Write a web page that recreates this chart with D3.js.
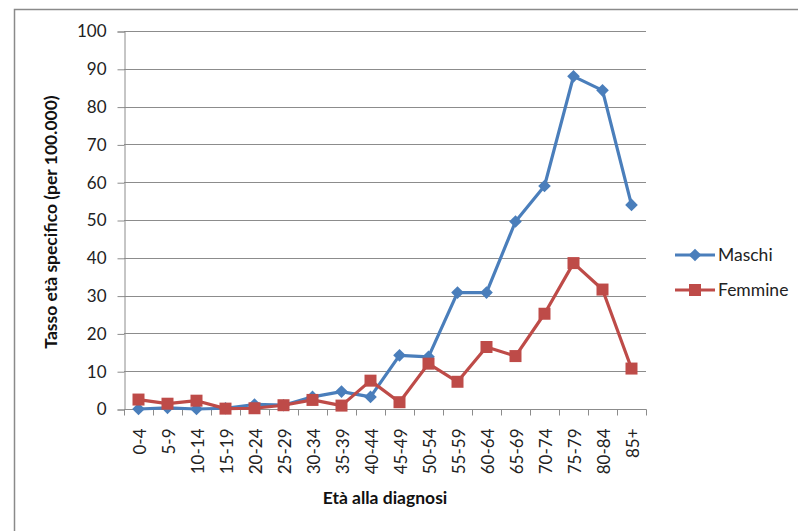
<!DOCTYPE html>
<html>
<head>
<meta charset="utf-8">
<script src="https://cdn.jsdelivr.net/npm/d3@7"></script>
<style>
  body { margin: 0; background: #fff; }
  svg { display: block; font-family: Lato, "Open Sans", sans-serif; }
</style>
</head>
<body>
<svg id="chart" width="798" height="531"></svg>
<script>
// age classes on the x axis
const ageGroups = ["0-4","5-9","10-14","15-19","20-24","25-29","30-34","35-39","40-44",
                   "45-49","50-54","55-59","60-64","65-69","70-74","75-79","80-84","85+"];
// rates per 100.000
const maschi  = [0, 0.3, 0, 0.2, 1.2, 1, 3.2, 4.6, 3.2, 14.2, 13.8, 30.8, 30.8, 49.6, 59, 88, 84.3, 54];
const femmine = [2.5, 1.4, 2.2, 0.1, 0.2, 1, 2.4, 0.9, 7.5, 1.8, 12, 7.2, 16.4, 14, 25.2, 38.6, 31.6, 10.7];
const yTicks = [0, 10, 20, 30, 40, 50, 60, 70, 80, 90, 100];

// diamond = square turned 45 degrees
const series = [
  { name: "Maschi",  values: maschi,  color: "#4A7EBB", size: 80,  rot: 45 },
  { name: "Femmine", values: femmine, color: "#BE4B48", size: 144, rot: 0 }
];

const svg = d3.select("#chart");

// chart frame (right / bottom cut off like the screenshot)
svg.append("rect")
  .attr("x", 14.5).attr("y", 9.5)
  .attr("width", 800).attr("height", 540)
  .attr("fill", "none").attr("stroke", "#8a8a8a").attr("stroke-width", 1.5);

const plotL = 124, plotR = 646, plotT = 31, plotB = 409;

const x = d3.scaleBand().domain(ageGroups).range([plotL, plotR]);
const y = d3.scaleLinear().domain([0, 100]).range([plotB, plotT]);

// gridlines
svg.append("g")
  .selectAll("line")
  .data(yTicks.filter(d => d > 0))
  .join("line")
  .attr("x1", plotL).attr("x2", plotR)
  .attr("y1", d => Math.round(y(d)) + 0.5).attr("y2", d => Math.round(y(d)) + 0.5)
  .attr("stroke", "#8c8c8c");

// y axis
const yAxis = svg.append("g")
  .attr("transform", `translate(${plotL + 0.5},0.5)`)
  .call(d3.axisLeft(y).tickValues(yTicks).tickSize(7).tickPadding(11));
yAxis.select(".domain").attr("stroke", "#8c8c8c");
yAxis.selectAll(".tick line").attr("stroke", "#8c8c8c");
yAxis.selectAll("text").attr("font-size", 17).attr("fill", "#222").attr("font-family", "Lato, sans-serif");

// x axis: ticks between categories
const xAxisG = svg.append("g").attr("transform", `translate(0,${plotB + 0.5})`);
xAxisG.append("line").attr("x1", plotL).attr("x2", plotR + 0.5).attr("stroke", "#8c8c8c");
xAxisG.selectAll("line.tk")
  .data(ageGroups.map((d, i) => plotL + i * x.step()).concat([plotR]))
  .join("line").attr("class", "tk")
  .attr("x1", d => Math.round(d) + 0.5).attr("x2", d => Math.round(d) + 0.5)
  .attr("y1", 0).attr("y2", 6)
  .attr("stroke", "#8c8c8c");
xAxisG.selectAll("text")
  .data(ageGroups)
  .join("text")
  .attr("transform", d => `translate(${x(d) + x.bandwidth() / 2 + 7},19) rotate(-90)`)
  .attr("text-anchor", "end")
  .attr("font-size", 17)
  .attr("fill", "#222")
  .text(d => d);

// lines + markers
const line = d3.line()
  .x((d, i) => x(ageGroups[i]) + x.bandwidth() / 2)
  .y(d => y(d));

series.forEach(s => {
  svg.append("path")
    .datum(s.values)
    .attr("d", line)
    .attr("fill", "none")
    .attr("stroke", s.color)
    .attr("stroke-width", 3.2)
    .attr("stroke-linejoin", "round");
  svg.append("g")
    .selectAll("path")
    .data(s.values)
    .join("path")
    .attr("transform", (d, i) => `translate(${x(ageGroups[i]) + x.bandwidth() / 2},${y(d)}) rotate(${s.rot})`)
    .attr("d", d3.symbol(d3.symbolSquare, s.size))
    .attr("fill", s.color);
});

// axis titles
svg.append("text")
  .attr("transform", "translate(57,222) rotate(-90)")
  .attr("text-anchor", "middle")
  .attr("font-size", 17.5).attr("font-weight", "bold").attr("fill", "#111")
  .text("Tasso età specifico (per 100.000)");

svg.append("text")
  .attr("x", 385).attr("y", 504)
  .attr("text-anchor", "middle")
  .attr("font-size", 17.5).attr("font-weight", "bold").attr("fill", "#111")
  .text("Età alla diagnosi");

// legend
const legend = svg.append("g");
series.forEach((s, i) => {
  const ly = 255 + i * 35;
  legend.append("line")
    .attr("x1", 675).attr("x2", 715).attr("y1", ly).attr("y2", ly)
    .attr("stroke", s.color).attr("stroke-width", 3.2);
  legend.append("path")
    .attr("transform", `translate(695,${ly}) rotate(${s.rot})`)
    .attr("d", d3.symbol(d3.symbolSquare, s.size))
    .attr("fill", s.color);
  legend.append("text")
    .attr("x", 718).attr("y", ly + 6)
    .attr("font-size", 17.5).attr("fill", "#222")
    .text(s.name);
});
</script>
</body>
</html>
